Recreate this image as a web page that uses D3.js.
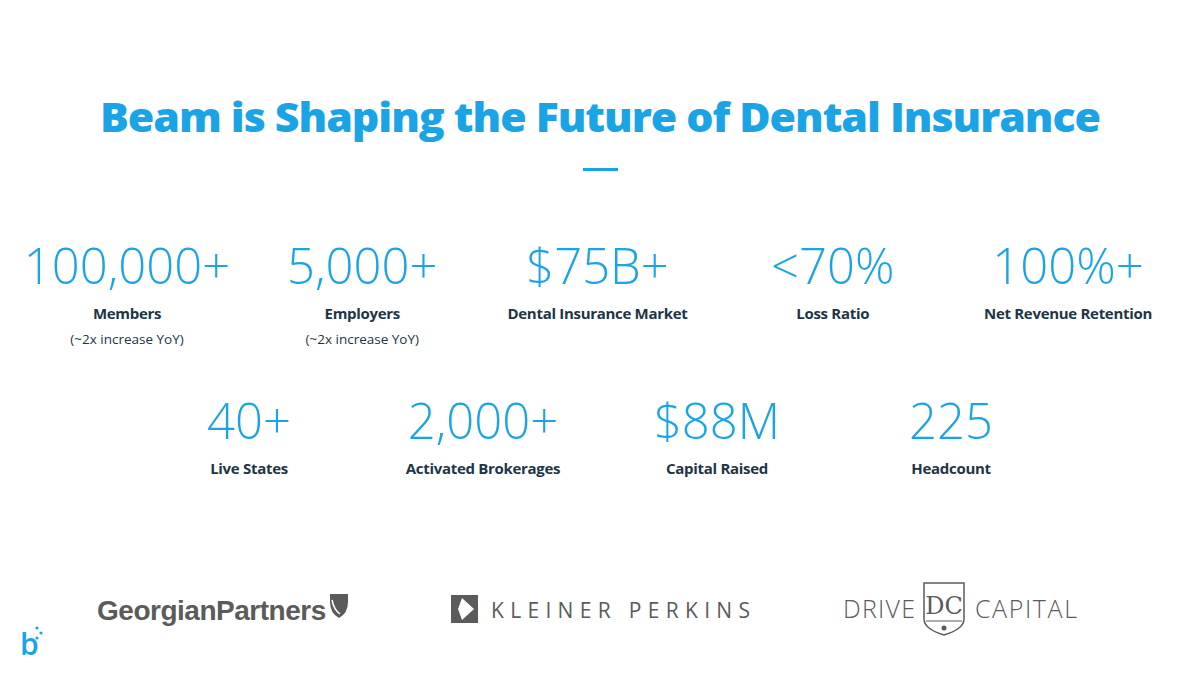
<!DOCTYPE html>
<html><head><meta charset="utf-8">
<script src="https://cdn.jsdelivr.net/npm/d3@7"></script>
<style>body{margin:0;background:#fff}svg{display:block}</style>
</head><body>
<script>
const row1Values=["100,000+","5,000+","$75B+","<70%","100%+"];
const row1Labels=["Members","Employers","Dental Insurance Market","Loss Ratio","Net Revenue Retention"];
const row1Notes=["(~2x increase YoY)","(~2x increase YoY)","","",""];
const row2Values=["40+","2,000+","$88M","225"];
const row2Labels=["Live States","Activated Brokerages","Capital Raised","Headcount"];
const title="Beam is Shaping the Future of Dental Insurance";

const W=1200,H=675,blue="#1aa4e6",navy="#1e3546",gray="#5b5b5b";
const svg=d3.select("body").append("svg").attr("width",W).attr("height",H);
svg.append("text").attr("x",100).attr("y",132)
 .attr("font-family","Open Sans").attr("font-weight",800).attr("font-size",41).attr("letter-spacing",-1).attr("fill",blue)
 .attr("textLength",1000).attr("lengthAdjust","spacingAndGlyphs").text(title);
svg.append("rect").attr("x",583).attr("y",168).attr("width",35).attr("height",3).attr("fill",blue);

function row(vals,labels,notes,x0,x1,yNum,yLab){
 const x=d3.scalePoint().domain(d3.range(vals.length)).range([x0,x1]);
 const g=svg.append("g").selectAll("g").data(vals).join("g").attr("transform",(d,i)=>`translate(${x(i)},0)`);
 g.append("text").attr("y",yNum).attr("text-anchor","middle").attr("font-family","Open Sans").attr("font-weight",300)
  .attr("font-size",49).attr("fill",blue).text(d=>d);
 g.append("text").attr("y",yLab).attr("text-anchor","middle").attr("font-family","Open Sans").attr("font-weight",700)
  .attr("font-size",15).attr("letter-spacing",-0.3).attr("fill",navy).text((d,i)=>labels[i]);
 if(notes) g.append("text").attr("y",yLab+25).attr("text-anchor","middle").attr("font-family","Open Sans").attr("font-weight",400)
  .attr("font-size",13.5).attr("fill",navy).text((d,i)=>notes[i]);
}
row(row1Values,row1Labels,row1Notes,127,1068,284,319);
row(row2Values,row2Labels,null,249,951,439,474);

// logos
svg.append("text").attr("x",97).attr("y",620).attr("font-family","Liberation Sans Narrow, Liberation Sans").attr("font-weight",700)
 .attr("font-size",28).attr("letter-spacing",-1.2).attr("fill",gray).attr("textLength",228).text("GeorgianPartners");
svg.append("path").attr("d","M330,594 h18 v8 q0,11 -9,16 q-9,-5 -9,-16 z").attr("fill",gray);
svg.append("path").attr("d","M332,600 q2,10 8,14").attr("stroke","#fff").attr("stroke-width",1.5).attr("fill","none");
svg.append("rect").attr("x",451).attr("y",595).attr("width",27).attr("height",28).attr("fill",gray);
svg.append("path").attr("d","M462,598 l12,11 l-12,11 l-4,-11 z").attr("fill","#fff");
svg.append("text").attr("x",491).attr("y",618).attr("font-family","Open Sans").attr("font-size",21)
 .attr("fill",gray).attr("textLength",259).text("KLEINER PERKINS");
svg.append("text").attr("x",843).attr("y",618).attr("font-family","Open Sans").attr("font-weight",300).attr("font-size",25)
 .attr("fill",gray).attr("textLength",72).text("DRIVE");
svg.append("text").attr("x",975).attr("y",618).attr("font-family","Open Sans").attr("font-weight",300).attr("font-size",25)
 .attr("fill",gray).attr("textLength",102).text("CAPITAL");
svg.append("path").attr("d","M924,583 h40 v36 q0,10 -20,16 q-20,-6 -20,-16 z").attr("fill","none").attr("stroke",gray).attr("stroke-width",1.5);
svg.append("text").attr("x",944).attr("y",614).attr("text-anchor","middle").attr("font-family","DejaVu Serif").attr("font-size",24)
 .attr("fill",gray).text("DC");
svg.append("path").attr("d","M926,621 h36").attr("stroke",gray);
svg.append("circle").attr("cx",944).attr("cy",628).attr("r",2.5).attr("fill",gray);
// beam logo
svg.append("text").attr("x",20).attr("y",655).attr("font-family","Open Sans").attr("font-weight",600).attr("font-size",30).attr("fill",blue).text("b");
[[37,628],[41,633],[37,638]].forEach(p=>svg.append("circle").attr("cx",p[0]).attr("cy",p[1]).attr("r",1.6).attr("fill",blue));
</script>
</body></html>
